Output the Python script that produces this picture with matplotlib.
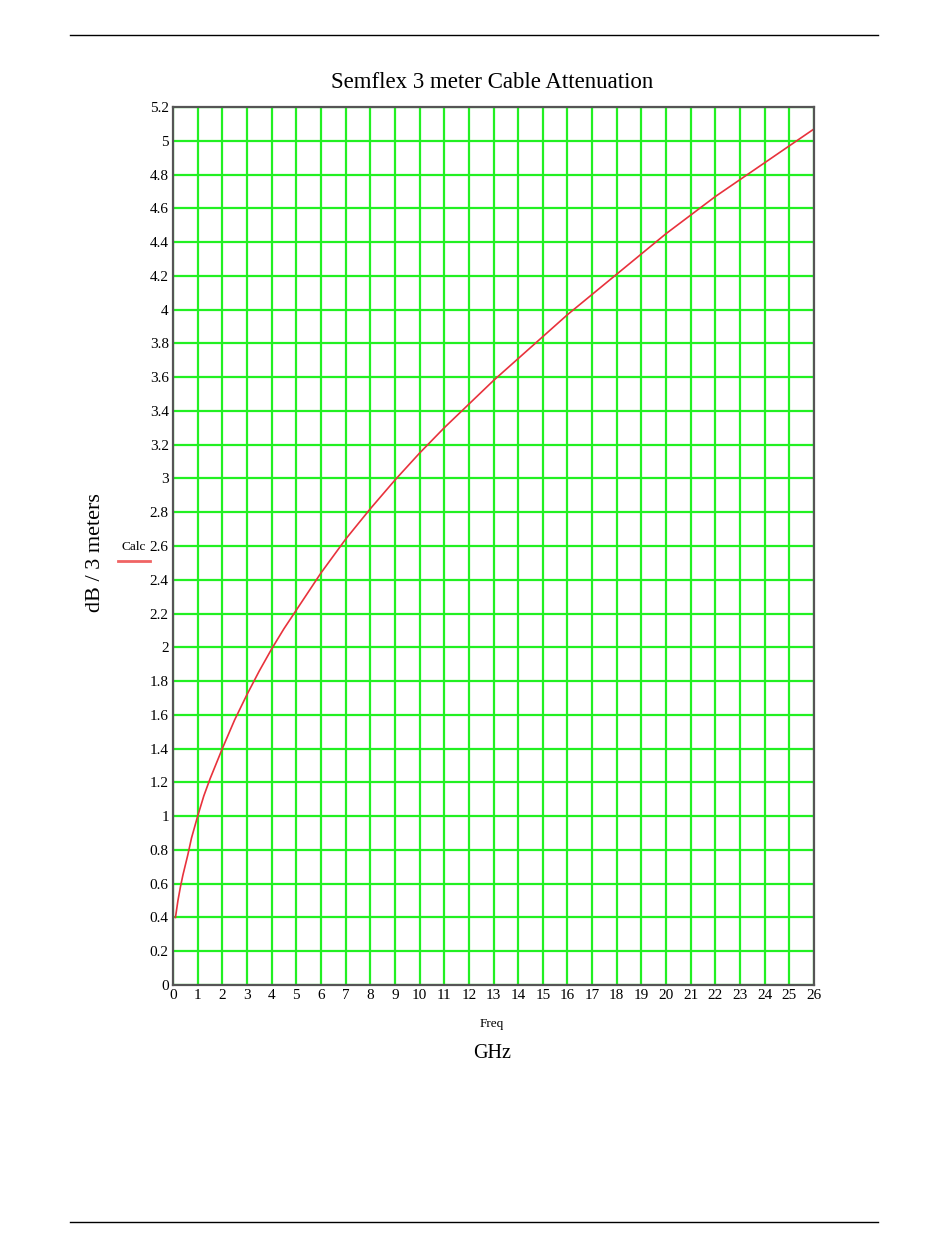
import matplotlib.pyplot as plt
from matplotlib.lines import Line2D
import numpy as np

# frequency (GHz) and attenuation (dB / 3 m)
freq = [0.1, 0.2, 0.3, 0.4, 0.5, 0.6, 0.75, 1, 1.25, 1.5, 1.75, 2, 2.5, 3,
        3.5, 4, 4.5, 5, 5.5, 6, 7, 8, 9, 10, 11, 12, 13, 14, 15, 16, 17, 18,
        19, 20, 21, 22, 23, 24, 25, 26]
atten = [0.40, 0.50, 0.58, 0.65, 0.71, 0.77, 0.87, 1.00, 1.12, 1.22, 1.31,
         1.40, 1.57, 1.72, 1.86, 1.99, 2.11, 2.22, 2.33, 2.44, 2.64, 2.82,
         2.99, 3.15, 3.30, 3.44, 3.58, 3.71, 3.84, 3.97, 4.09, 4.21, 4.33,
         4.45, 4.56, 4.67, 4.77, 4.87, 4.97, 5.07]

x_ticks = list(range(0, 27))
y_ticks = [round(0.2 * i, 1) for i in range(27)]
y_labels = ["0" if v == 0 else ("%g" % v) for v in y_ticks]

plt.rcParams['font.family'] = ['Liberation Serif', 'DejaVu Serif']

fig = plt.figure(figsize=[9.5, 12.6], dpi=100)
ax = fig.add_axes([173 / 950, 1 - 985 / 1260, 641 / 950, 878 / 1260])

# grid
for xv in x_ticks:
    ax.axvline(xv, color='#22f022', lw=1.6, zorder=1)
for yv in y_ticks:
    ax.axhline(yv, color='#22f022', lw=1.6, zorder=1)

# curve
ax.plot(freq, atten, color='#e8323c', lw=1.2, zorder=3)

ax.set_xlim(0, 26)
ax.set_ylim(0, 5.2)
ax.set_xticks(x_ticks)
ax.set_xticklabels([str(v) for v in x_ticks], fontsize=11)
ax.set_yticks(y_ticks)
ax.set_yticklabels(y_labels, fontsize=11)
ax.tick_params(length=0, pad=3)
for sp in ax.spines.values():
    sp.set_color('#555555')
    sp.set_linewidth(1.6)
    sp.set_zorder(4)

# titles and labels
fig.text(492 / 950, 1 - 83 / 1260, "Semflex 3 meter Cable Attenuation",
         ha='center', va='center', fontsize=16.5)
fig.text(95 / 950, 1 - 553 / 1260, "dB / 3 meters", rotation=90,
         ha='center', va='center', fontsize=16)
fig.text(492 / 950, 1 - 1024 / 1260, "Freq", ha='center', va='center',
         fontsize=9.5)
fig.text(492 / 950, 1 - 1054 / 1260, "GHz", ha='center', va='center',
         fontsize=14.5)

# legend
fig.text(134 / 950, 1 - 547 / 1260, "Calc", ha='center', va='center',
         fontsize=9.5)
fig.add_artist(Line2D([118 / 950, 150 / 950], [1 - 561 / 1260, 1 - 561 / 1260],
                      color='#f06464', lw=2))

# page rules
fig.add_artist(Line2D([70 / 950, 878 / 950], [1 - 35 / 1260, 1 - 35 / 1260],
                      color='black', lw=1))
fig.add_artist(Line2D([70 / 950, 878 / 950], [1 - 1222 / 1260, 1 - 1222 / 1260],
                      color='black', lw=1))

fig.savefig("out.png", dpi=100)
